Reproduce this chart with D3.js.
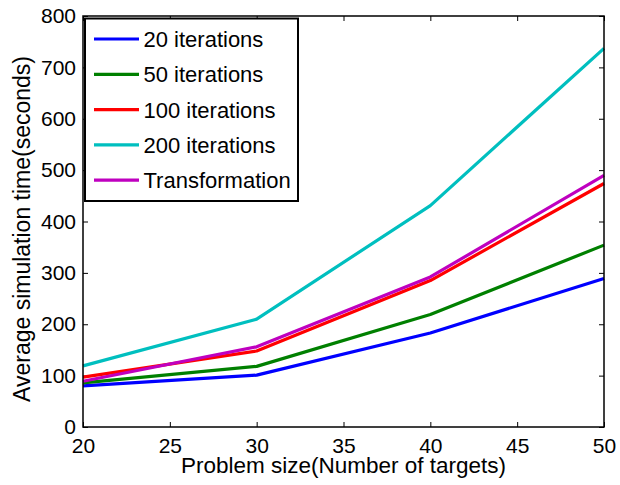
<!DOCTYPE html>
<html lang="en">
<head>
<meta charset="utf-8">
<title>Average simulation time</title>
<script src="https://cdn.jsdelivr.net/npm/d3@7"></script>
<style>
  body { margin: 0; background: #fff; }
  text { font-family: "Liberation Sans", Arial, sans-serif; fill: #000; }
</style>
</head>
<body>
<script>
// data
var problemSizes = [20, 30, 40, 50];
var seriesNames = ["20 iterations", "50 iterations", "100 iterations", "200 iterations", "Transformation"];
var seriesColors = ["#0000ff", "#008000", "#ff0000", "#00bfbf", "#bf00bf"];
var iter20 = [80, 101, 183, 289];
var iter50 = [86, 118, 219, 354];
var iter100 = [97, 148, 285, 474];
var iter200 = [119, 210, 431, 737];
var transformation = [89, 156, 292, 490];
var xTicks = [20, 25, 30, 35, 40, 45, 50];
var yTicks = [0, 100, 200, 300, 400, 500, 600, 700, 800];

var allSeries = [iter20, iter50, iter100, iter200, transformation];

var w = 620, h = 485;
var plotLeft = 83, plotRight = 604, plotTop = 16, plotBottom = 427;

var svg = d3.select("body").append("svg")
  .attr("width", w)
  .attr("height", h);

var x = d3.scaleLinear().domain([20, 50]).range([plotLeft, plotRight]);
var y = d3.scaleLinear().domain([0, 800]).range([plotBottom, plotTop]);

// axes with inward ticks, MATLAB style
function styleAxis(g) {
  g.attr("font-family", null).attr("font-size", null);
  g.select(".domain").remove();
  g.selectAll(".tick line").attr("stroke", "#000").attr("stroke-width", 1);
  g.selectAll("text").attr("font-size", "21px");
}

svg.append("g")
  .attr("transform", "translate(0," + plotBottom + ")")
  .call(d3.axisBottom(x).tickValues(xTicks).tickSizeInner(-5).tickSizeOuter(0).tickPadding(11))
  .call(styleAxis);

svg.append("g")
  .attr("transform", "translate(0," + plotTop + ")")
  .call(d3.axisTop(x).tickValues(xTicks).tickSizeInner(-5).tickSizeOuter(0).tickFormat(""))
  .call(styleAxis);

svg.append("g")
  .attr("transform", "translate(" + plotLeft + ",0)")
  .call(d3.axisLeft(y).tickValues(yTicks).tickSizeInner(-5).tickSizeOuter(0).tickPadding(7))
  .call(styleAxis);

svg.append("g")
  .attr("transform", "translate(" + plotRight + ",0)")
  .call(d3.axisRight(y).tickValues(yTicks).tickSizeInner(-5).tickSizeOuter(0).tickFormat(""))
  .call(styleAxis);

// lines
var line = d3.line()
  .x(function(d, i) { return x(problemSizes[i]); })
  .y(function(d) { return y(d); });

svg.append("g").selectAll("path")
  .data(allSeries)
  .enter()
  .append("path")
  .attr("d", line)
  .attr("fill", "none")
  .attr("stroke", function(d, i) { return seriesColors[i]; })
  .attr("stroke-width", 3.2)
  .attr("stroke-linejoin", "round");

// axes box
svg.append("rect")
  .attr("x", plotLeft)
  .attr("y", plotTop)
  .attr("width", plotRight - plotLeft)
  .attr("height", plotBottom - plotTop)
  .attr("fill", "none")
  .attr("stroke", "#000")
  .attr("stroke-width", 1.5);

// axis labels
svg.append("text")
  .attr("x", (plotLeft + plotRight) / 2)
  .attr("y", 473)
  .attr("text-anchor", "middle")
  .attr("font-size", "22.5px")
  .text("Problem size(Number of targets)");

svg.append("text")
  .attr("transform", "translate(30," + 229 + ") rotate(-90)")
  .attr("text-anchor", "middle")
  .attr("font-size", "23px")
  .text("Average simulation time(seconds)");

// legend
var legend = svg.append("g");
legend.append("rect")
  .attr("x", 85)
  .attr("y", 18.5)
  .attr("width", 213)
  .attr("height", 182.5)
  .attr("fill", "#fff")
  .attr("stroke", "#000")
  .attr("stroke-width", 2);

var rows = legend.selectAll("g.row")
  .data(seriesNames)
  .enter()
  .append("g")
  .attr("class", "row")
  .attr("transform", function(d, i) { return "translate(0," + (39 + i * 35.3) + ")"; });

rows.append("line")
  .attr("x1", 94)
  .attr("x2", 139)
  .attr("stroke", function(d, i) { return seriesColors[i]; })
  .attr("stroke-width", 3.2);

rows.append("text")
  .attr("x", 143.5)
  .attr("dy", "0.36em")
  .attr("font-size", "22px")
  .text(function(d) { return d; });
</script>
</body>
</html>
